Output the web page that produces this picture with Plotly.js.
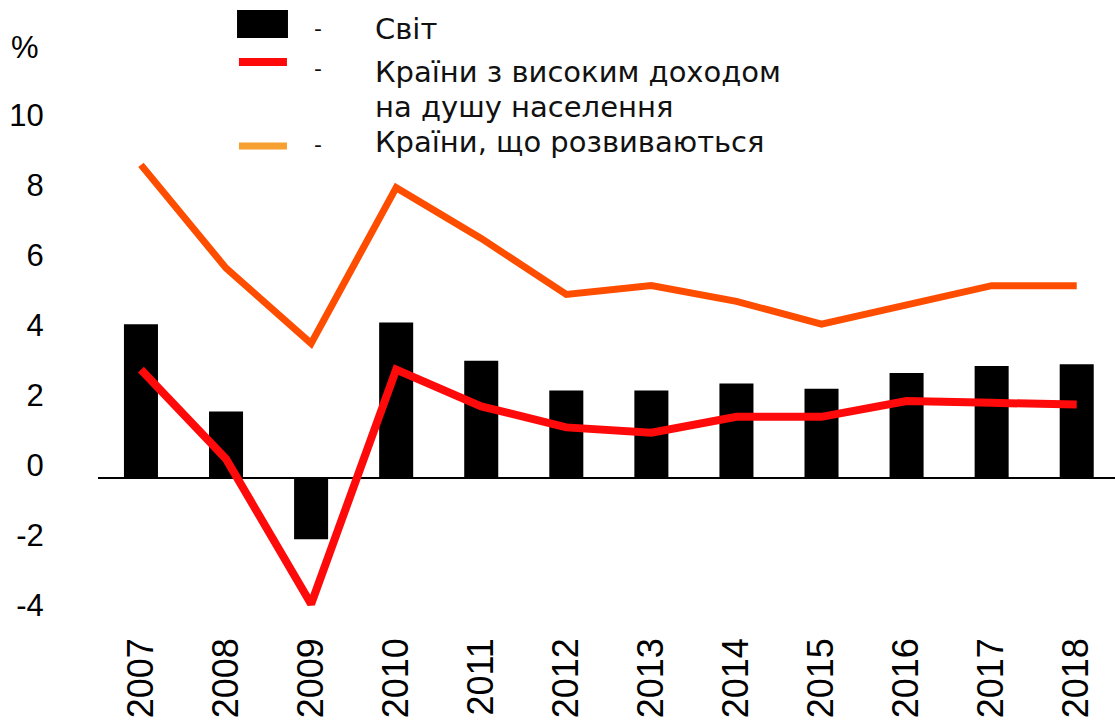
<!DOCTYPE html>
<html>
<head>
<meta charset="utf-8">
<script src="https://cdn.plot.ly/plotly-3.0.1.min.js"></script>
<style>
html,body{margin:0;padding:0;background:#fff;}
#chart{width:1115px;height:724px;}
</style>
</head>
<body>
<div id="chart"></div>
<script>
const years = ['2007','2008','2009','2010','2011','2012','2013','2014','2015','2016','2017','2018'];
const world = [4.4, 1.9, -1.75, 4.45, 3.35, 2.5, 2.5, 2.7, 2.55, 3.0, 3.2, 3.25];
const highIncome = [3.1, 0.55, -3.6, 3.1, 2.05, 1.45, 1.3, 1.75, 1.75, 2.2, 2.15, 2.1];
const developing = [8.95, 6.0, 3.85, 8.3, 6.85, 5.25, 5.5, 5.05, 4.4, 4.95, 5.5, 5.5];
const seriesNames = ['Світ', 'Країни з високим доходом<br>на душу населення', 'Країни, що розвиваються'];
const yTicks = [-4, -2, 0, 2, 4, 6, 8, 10];
const unitLabel = '%';

const yRange = [-4.34, 11.09];
const labelShift = 0.37;
const legendFont = {family: 'DejaVu Sans, sans-serif', size: 29, color: '#111'};
const dashFont = {family: 'DejaVu Sans, sans-serif', size: 22, color: '#111'};
const nameLines = seriesNames[1].split('<br>');

const traces = [
  {type: 'bar', x: years, y: world, name: seriesNames[0], marker: {color: '#000'}, width: 0.4, showlegend: false, hoverinfo: 'x+y'},
  {type: 'scatter', mode: 'lines', x: years, y: highIncome, name: seriesNames[1], line: {color: '#ff0a0a', width: 8}, showlegend: false},
  {type: 'scatter', mode: 'lines', x: years, y: developing, name: seriesNames[2], line: {color: '#ff4d00', width: 7}, showlegend: false},
  {type: 'scatter', mode: 'markers', x: [years[0]], y: [0], yaxis: 'y2', marker: {opacity: 0}, showlegend: false, hoverinfo: 'skip'}
];

function txt(x, y, text, font, xanchor) {
  return {xref: 'paper', yref: 'paper', x: x, y: y, text: text, showarrow: false,
          xanchor: xanchor || 'left', yanchor: 'middle', font: font};
}

const layout = {
  width: 1115, height: 724,
  margin: {l: 98, r: 0, t: 90, b: 94},
  paper_bgcolor: '#fff', plot_bgcolor: '#fff',
  showlegend: false,
  bargap: 0.6,
  xaxis: {
    type: 'category', range: [-0.505, 11.45],
    showgrid: false, zeroline: false, showline: false,
    ticks: '', tickangle: -90,
    tickfont: {family: 'Liberation Sans, Arial, sans-serif', size: 36, color: '#000'}
  },
  yaxis: {
    range: yRange, showgrid: false, showticklabels: false,
    zeroline: true, zerolinecolor: '#000', zerolinewidth: 2, showline: false
  },
  yaxis2: {
    overlaying: 'y', side: 'left',
    range: [yRange[0] - labelShift, yRange[1] - labelShift],
    tickvals: yTicks, ticktext: yTicks.map(String),
    showgrid: false, zeroline: false, showline: false,
    ticks: 'outside', ticklen: 47, tickcolor: 'rgba(0,0,0,0)',
    tickfont: {family: 'Liberation Sans, Arial, sans-serif', size: 31, color: '#000'}
  },
  shapes: [
    {type: 'rect', xref: 'paper', yref: 'paper', x0: 0.1367, x1: 0.1868, y0: 1.0963, y1: 1.148, fillcolor: '#000', line: {width: 0}},
    {type: 'line', xref: 'paper', yref: 'paper', x0: 0.1386, x1: 0.1858, y0: 1.0519, y1: 1.0519, line: {color: '#ff0a0a', width: 8}},
    {type: 'line', xref: 'paper', yref: 'paper', x0: 0.1386, x1: 0.1858, y0: 0.8963, y1: 0.8963, line: {color: '#f5a030', width: 7}}
  ],
  annotations: [
    txt(-0.072, 1.078, unitLabel, {family: 'Liberation Sans, Arial, sans-serif', size: 31, color: '#000'}, 'center'),
    txt(0.216, 1.113, '-', dashFont, 'center'),
    txt(0.216, 1.040, '-', dashFont, 'center'),
    txt(0.216, 0.900, '-', dashFont, 'center'),
    txt(0.270, 1.113, seriesNames[0], legendFont),
    txt(0.270, 1.034, nameLines[0], legendFont),
    txt(0.270, 0.968, nameLines[1], legendFont),
    txt(0.270, 0.903, seriesNames[2], legendFont)
  ]
};

Plotly.newPlot('chart', traces, layout, {displayModeBar: false, staticPlot: true});
</script>
</body>
</html>
